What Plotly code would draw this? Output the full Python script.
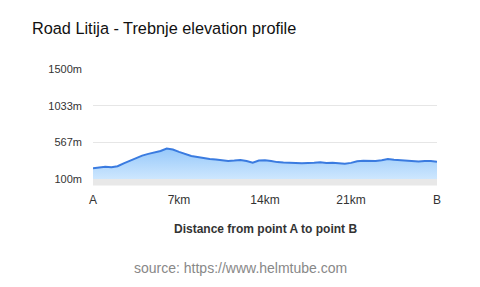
import plotly.graph_objects as go

distance_km = [0, 0.5, 1.0, 1.5, 2.0, 2.5, 3.0, 3.5, 4.0, 4.5, 5.0, 5.5, 6.0, 6.5, 7.0, 7.5,
               8.0, 8.5, 9.0, 9.5, 10.0, 10.5, 11.0, 11.5, 12.0, 12.5, 13.0, 13.5, 14.0, 14.5,
               15.0, 15.5, 16.0, 16.5, 17.0, 17.5, 18.0, 18.5, 19.0, 19.5, 20.0, 20.5, 21.0,
               21.5, 22.0, 22.5, 23.0, 23.5, 24.0, 24.5, 25.0, 25.5, 26.0, 26.5, 27.0, 27.5, 28.0]
elevation_m = [236, 242, 257, 250, 262, 300, 335, 370, 398, 420, 438, 456, 488, 475, 445, 418,
               392, 380, 365, 355, 348, 338, 330, 335, 342, 330, 308, 335, 340, 330,
               315, 310, 312, 305, 302, 300, 306, 312, 305, 308, 300, 295, 305,
               325, 333, 335, 328, 340, 354, 345, 338, 332, 320, 322, 328, 330, 320]

y_tick_vals = [100, 567, 1033, 1500]
y_tick_text = ["100m", "567m", "1033m", "1500m"]
x_tick_vals = [0, 7, 14, 21, 28]
x_tick_text = ["A", "7km", "14km", "21km", "B"]

FONT = "Liberation Sans, Arial, Helvetica, sans-serif"

fig = go.Figure()
fig.add_trace(go.Scatter(
    x=distance_km, y=elevation_m, mode="lines",
    line=dict(color="#3a7be0", width=2),
    fill="tozeroy",
    fillgradient=dict(type="vertical",
                      colorscale=[[0, "rgba(220,239,255,1)"], [1, "rgba(150,200,250,1)"]]),
    hoverinfo="skip",
))

fig.add_shape(type="rect", xref="x", yref="paper", x0=0, x1=28, y0=-0.06, y1=0,
              fillcolor="#e8e8e8", line=dict(width=0), layer="above")

fig.update_layout(
    width=480, height=287,
    margin=dict(l=93, r=43, t=69, b=108),
    paper_bgcolor="white", plot_bgcolor="white",
    showlegend=False,
    font=dict(family=FONT, color="#333"),
    title=dict(text="Road Litija - Trebnje elevation profile",
               x=32 / 480, xanchor="left", y=1 - 28 / 287, yanchor="middle",
               font=dict(size=16.3, color="#111", family=FONT)),
    xaxis=dict(range=[0, 28], tickvals=x_tick_vals, ticktext=x_tick_text,
               showgrid=False, zeroline=False, showline=False,
               tickfont=dict(size=12, color="#333"), ticklabelstandoff=12),
    yaxis=dict(range=[100, 1500], tickvals=y_tick_vals, ticktext=y_tick_text,
               showgrid=True, gridcolor="#e6e6e6", gridwidth=1, zeroline=False,
               showline=False, tickfont=dict(size=11, color="#333"), ticklabelstandoff=10),
    annotations=[
        dict(text="<b>Distance from point A to point B</b>", xref="paper", yref="paper",
             x=0.5, y=-(229 - 179) / 110, xanchor="center", yanchor="middle",
             showarrow=False, font=dict(size=12, color="#333")),
        dict(text="source: https://www.helmtube.com", xref="paper", yref="paper",
             x=(240 - 93) / 344, y=-(268 - 179) / 110, xanchor="center", yanchor="middle",
             showarrow=False, font=dict(size=14, color="#888")),
    ],
)

fig.write_html("out.html")
